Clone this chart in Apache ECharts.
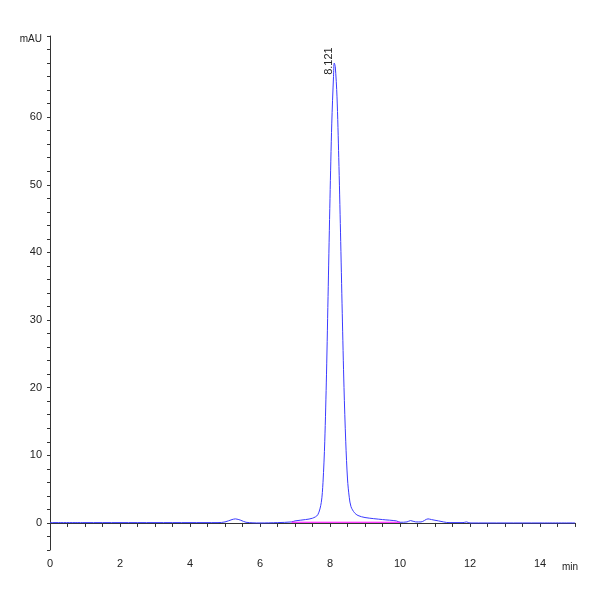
<!DOCTYPE html>
<html>
<head>
<meta charset="utf-8">
<script src="https://cdn.jsdelivr.net/npm/echarts@6/dist/echarts.min.js"></script>
<style>html,body{margin:0;padding:0;background:#fff}#chart{width:600px;height:600px}</style>
</head>
<body>
<div id="chart"></div>
<script>
// retention time (min) and absorbance (mAU)
var times = [0, 1, 2, 3, 4, 4.8, 5.0, 5.2, 5.3, 5.45, 5.6, 6.0, 6.5, 6.9, 7.0, 7.3, 7.5, 7.65, 7.75, 7.8, 7.85, 7.9, 7.95, 8.0, 8.05, 8.1, 8.121, 8.15, 8.2, 8.25, 8.3, 8.35, 8.4, 8.45, 8.5, 8.55, 8.6, 8.7, 8.8, 9.0, 9.5, 9.9, 10.0, 10.2, 10.3, 10.45, 10.6, 10.8, 10.9, 11.1, 11.4, 11.8, 11.9, 12.0, 13, 14, 15];
var signal = [0.05, 0.05, 0.05, 0.05, 0.05, 0.05, 0.15, 0.5, 0.6, 0.4, 0.1, 0, 0.05, 0.15, 0.3, 0.5, 0.7, 1.2, 3, 6, 12, 22, 35, 48, 59, 66, 68, 67.5, 63, 54, 43, 31, 20, 12, 6.5, 3.8, 2.4, 1.5, 1.1, 0.8, 0.5, 0.3, 0.1, 0.15, 0.35, 0.15, 0.15, 0.6, 0.5, 0.3, 0.05, 0.05, 0.15, 0, 0, 0, 0];
var baseline = [[6.9, 0.1], [10.0, 0.1]];
var peakLabel = '8.121';

var chart = echarts.init(document.getElementById('chart'));
var data = times.map(function (t, i) { return [t, signal[i]]; });
var axisColor = '#333';
chart.setOption({
    animation: false,
    grid: {left: 50, right: 25, top: 36, bottom: 50},
    graphic: [{type: 'text', left: 562, top: 562,
        style: {text: 'min', fill: '#222', fontSize: 10, fontFamily: 'Liberation Sans'}}],
    xAxis: {
        type: 'value', min: 0, max: 15, interval: 0.5,
        axisLine: {lineStyle: {color: axisColor}},
        axisTick: {lineStyle: {color: axisColor}, length: 4},
        splitLine: {show: false},
        axisLabel: {color: '#222', fontSize: 11, fontFamily: 'Liberation Sans',
            formatter: function (v) { return v % 2 === 0 && v < 15 ? v : ''; }}
    },
    yAxis: {
        type: 'value', min: -4, max: 72, interval: 2,
        name: 'mAU', nameLocation: 'end', nameGap: 0,
        nameTextStyle: {color: '#222', fontSize: 10, fontFamily: 'Liberation Sans', align: 'right', padding: [0, 8, -8, 0]},
        axisLine: {onZero: false, lineStyle: {color: axisColor}},
        axisTick: {lineStyle: {color: axisColor}, length: 3},
        splitLine: {show: false},
        axisLabel: {color: '#222', fontSize: 11, fontFamily: 'Liberation Sans',
            formatter: function (v) { return v % 10 === 0 && v <= 60 ? v : ''; }}
    },
    series: [
        {
            type: 'line', data: data, symbol: 'none', smooth: 0.3,
            lineStyle: {color: '#3a3aff', width: 1},
            markPoint: {
                symbol: 'circle', symbolSize: 0,
                data: [{coord: [8.121, 68], value: peakLabel}],
                label: {show: true, formatter: peakLabel, rotate: 90, position: 'top', distance: 2,
                    color: '#222', fontSize: 11, fontFamily: 'Liberation Sans'}
            }
        },
        {
            type: 'line', data: baseline, symbol: 'none',
            lineStyle: {color: '#ff00ff', width: 1.2}
        }
    ]
});
</script>
</body>
</html>
